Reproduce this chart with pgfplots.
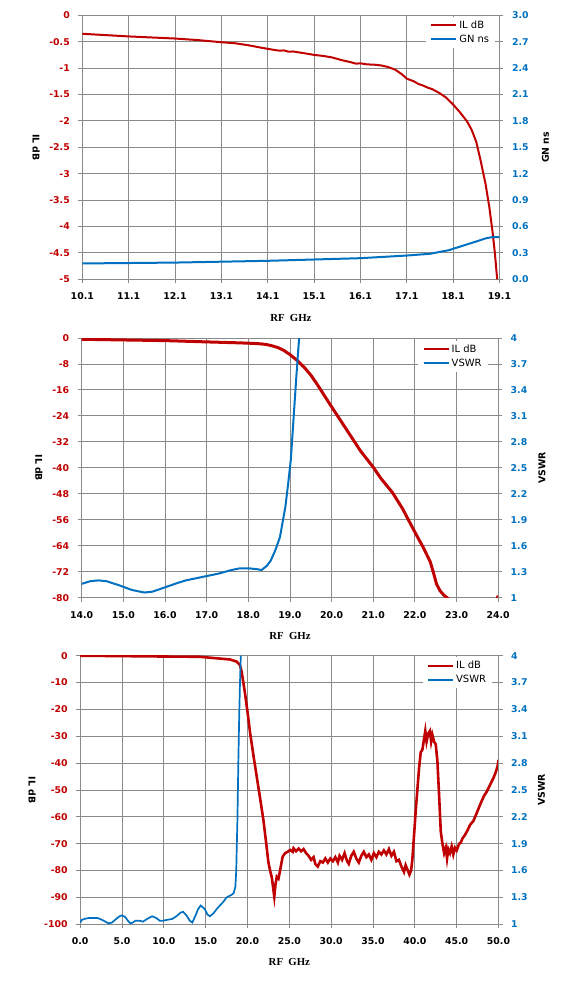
\documentclass[border=0pt]{standalone}
\usepackage{fontspec}
\setmainfont{DejaVu Sans}
\newfontfamily\serifb{Liberation Serif}
\usepackage{pgfplots}
\pgfplotsset{compat=1.18}
\definecolor{ilred}{HTML}{C00000}
\definecolor{vsblue}{HTML}{0070C0}
\definecolor{gridgray}{HTML}{8A8A8A}
\newcommand{\tickf}{\bfseries\fontsize{9.4}{10}\selectfont}
\newcommand{\labf}{\bfseries\fontsize{9.4}{10}\selectfont}
\newcommand{\legf}{\fontsize{10}{11}\selectfont}
\pgfplotsset{
  base/.style={scale only axis, anchor=north west,
    axis line style={draw=gridgray, line width=0.9bp},
    tick style={draw=gridgray, line width=0.9bp},
    tick align=outside, major tick length=4bp,
    tick label style={font=\tickf},
    /pgf/number format/assume math mode=true,
  },
  leftax/.style={base, xtick pos=left, ytick pos=left,
    xmajorgrids, ymajorgrids,
    grid style={draw=gridgray, line width=0.9bp},
    yticklabel style={text=ilred, xshift=-5bp},
    xticklabel style={text=black, yshift=-6bp},
    xlabel={\serifb\bfseries\fontsize{10.8}{12}\selectfont RF\ \ GHz},
    ylabel={\labf IL dB},
    ylabel style={rotate=180, anchor=center},
  },
  rightax/.style={base, axis x line=none, axis y line*=right,
    yticklabel style={text=vsblue, xshift=5bp},
    ylabel style={anchor=center},
    legend style={draw=none, fill=white, font=\legf, inner xsep=4bp, inner ysep=2bp,
      row sep=1bp, anchor=north east, cells={anchor=west}},
    legend image code/.code={\draw[##1, line width=2.2bp] (0bp,0bp) -- (25bp,0bp);},
  },
}
\begin{document}
\begin{tikzpicture}
\path[use as bounding box] (0bp,0bp) rectangle (568bp,-986bp);

% ---------- Plot 1 ----------
\begin{axis}[leftax, at={(82.3bp,-15.3bp)}, width=417.2bp, height=264bp,
  xmin=10.1, xmax=19.1, ymin=-5, ymax=0,
  xtick={10.1,11.1,12.1,13.1,14.1,15.1,16.1,17.1,18.1,19.1},
  xticklabels={10.1,11.1,12.1,13.1,14.1,15.1,16.1,17.1,18.1,19.1},
  ytick={0,-0.5,-1,-1.5,-2,-2.5,-3,-3.5,-4,-4.5,-5},
  yticklabels={0,-0.5,-1,-1.5,-2,-2.5,-3,-3.5,-4,-4.5,-5},
  xlabel style={at={(axis description cs:0.5,-0.145)}, anchor=center},
  ylabel style={at={(axis description cs:-0.111,0.5)}},
]
\addplot[ilred, line width=2bp] coordinates {
(10.1,-0.35)(10.5,-0.37)(11.1,-0.40)(11.6,-0.42)(12.1,-0.44)(12.6,-0.47)
(13.1,-0.51)(13.4,-0.53)(13.7,-0.57)(14.0,-0.62)(14.2,-0.65)(14.35,-0.67)
(14.45,-0.665)(14.55,-0.69)(14.65,-0.685)(14.75,-0.70)(14.9,-0.72)(15.1,-0.75)
(15.3,-0.77)(15.5,-0.80)(15.7,-0.85)(15.9,-0.89)(16.0,-0.915)(16.1,-0.91)
(16.25,-0.93)(16.4,-0.935)(16.55,-0.95)(16.7,-0.98)(16.85,-1.03)(17.0,-1.12)
(17.1,-1.20)(17.25,-1.25)(17.35,-1.30)(17.45,-1.33)(17.55,-1.37)(17.65,-1.40)
(17.8,-1.47)(17.95,-1.56)(18.1,-1.69)(18.25,-1.84)(18.4,-2.01)(18.5,-2.17)
(18.6,-2.40)(18.7,-2.78)(18.8,-3.20)(18.88,-3.63)(18.95,-4.10)(19.0,-4.50)(19.05,-5.0)
};
\end{axis}
\begin{axis}[rightax, at={(82.3bp,-15.3bp)}, width=417.2bp, height=264bp,
  xmin=10.1, xmax=19.1, ymin=0, ymax=3,
  ytick={0,0.3,0.6,0.9,1.2,1.5,1.8,2.1,2.4,2.7,3.0},
  yticklabels={0.0,0.3,0.6,0.9,1.2,1.5,1.8,2.1,2.4,2.7,3.0},
  ylabel={\labf GN ns},
  ylabel style={at={(axis description cs:1.11,0.5)}},
  legend style={at={(0.99,0.995)}},
]
\addlegendimage{ilred}
\addlegendentry{IL dB}
\addplot[vsblue, line width=2bp] coordinates {
(10.1,0.18)(11.1,0.185)(12.1,0.19)(13.1,0.20)(14.1,0.21)(15.1,0.225)(16.1,0.24)
(16.6,0.255)(17.1,0.27)(17.6,0.29)(18.0,0.33)(18.3,0.38)(18.6,0.43)(18.8,0.465)
(18.95,0.48)(19.1,0.48)
};
\addlegendentry{GN ns}
\end{axis}

% ---------- Plot 2 ----------
\begin{axis}[leftax, at={(81.7bp,-338bp)}, width=416.5bp, height=259.7bp,
  xmin=14, xmax=24, ymin=-80, ymax=0,
  xtick={14,15,...,24},
  xticklabel={\pgfmathprintnumber[fixed, fixed zerofill, precision=1]{\tick}},
  ytick={0,-8,...,-80},
  yticklabels={0,-8,-16,-24,-32,-40,-48,-56,-64,-72,-80},
  xlabel style={at={(axis description cs:0.5,-0.148)}, anchor=center},
  ylabel style={at={(axis description cs:-0.103,0.5)}},
]
\addplot[ilred, line width=3bp] coordinates {
(14.0,-0.4)(15.0,-0.6)(16.0,-0.8)(17.0,-1.2)(17.8,-1.5)(18.1,-1.65)(18.3,-1.8)
(18.45,-2.05)(18.6,-2.5)(18.72,-3.0)(18.85,-3.8)(19.0,-5.1)(19.18,-7.0)(19.34,-9.0)
(19.5,-11.4)(19.66,-14.4)(19.82,-17.6)(20.0,-21.2)(20.22,-25.5)(20.46,-30.2)
(20.7,-34.9)(21.0,-39.8)(21.18,-43.2)(21.46,-47.6)(21.7,-52.5)(22.02,-60.3)
(22.2,-64.5)(22.37,-69.0)(22.45,-72.5)(22.52,-75.8)(22.6,-77.8)(22.7,-79.3)
(22.8,-80.3)(22.9,-81)
};
\addplot[ilred, line width=3bp] coordinates {(23.96,-80.6)(24.0,-79.4)};
\end{axis}
\begin{axis}[rightax, at={(81.7bp,-338bp)}, width=416.5bp, height=259.7bp,
  xmin=14, xmax=24, ymin=1, ymax=4,
  ytick={1,1.3,1.6,1.9,2.2,2.5,2.8,3.1,3.4,3.7,4},
  yticklabels={1,1.3,1.6,1.9,2.2,2.5,2.8,3.1,3.4,3.7,4},
  ylabel={\labf VSWR},
  ylabel style={at={(axis description cs:1.105,0.5)}},
  legend style={at={(0.975,0.99)}},
]
\addlegendimage{ilred}
\addlegendentry{IL dB}
\addplot[vsblue, line width=2bp] coordinates {
(14.0,1.16)(14.2,1.19)(14.4,1.20)(14.6,1.19)(14.92,1.14)(15.2,1.09)(15.5,1.06)
(15.7,1.07)(16.0,1.12)(16.3,1.17)(16.5,1.20)(17.0,1.25)(17.3,1.28)(17.6,1.32)
(17.8,1.34)(18.0,1.34)(18.2,1.33)(18.32,1.32)(18.45,1.37)(18.54,1.43)(18.65,1.55)
(18.76,1.70)(18.89,2.05)(18.96,2.33)(19.02,2.59)(19.11,3.24)(19.16,3.6)(19.22,4.0)
};
\addlegendentry{VSWR}
\end{axis}

% ---------- Plot 3 ----------
\begin{axis}[leftax, at={(80.2bp,-655.7bp)}, width=418.3bp, height=268.6bp,
  xmin=0, xmax=50, ymin=-100, ymax=0,
  xtick={0,5,...,50},
  xticklabel={\pgfmathprintnumber[fixed, fixed zerofill, precision=1]{\tick}},
  ytick={0,-10,...,-100},
  yticklabels={0,-10,-20,-30,-40,-50,-60,-70,-80,-90,-100},
  xlabel style={at={(axis description cs:0.5,-0.14)}, anchor=center},
  ylabel style={at={(axis description cs:-0.115,0.5)}},
]
\addplot[ilred, line width=2.6bp] coordinates {
(0,0)(5,-0.15)(10,-0.3)(14.3,-0.4)(15,-0.6)(17.9,-1.4)(18.7,-2.2)(19.1,-3.5)
(19.3,-6)(19.5,-10)(19.7,-14)(20.0,-21)(20.3,-28.5)(20.7,-37)(21.1,-45)(21.5,-53)
(21.9,-61.2)(22.2,-69)(22.5,-77)(22.7,-80)(22.9,-82.5)(23.05,-86)(23.2,-89.7)
(23.35,-85)(23.5,-82.3)(23.7,-83)(23.9,-79.8)(24.2,-74.8)(24.5,-73.5)
(24.8,-73)(25.1,-72.3)(25.4,-73)(25.5,-71.7)(25.8,-72.8)(26.1,-71.8)(26.4,-72.8)
(26.7,-72)(27.0,-73.5)(27.3,-74.5)(27.6,-76)(27.9,-75)(28.1,-77.5)(28.4,-78.5)
(28.7,-76.5)(29.0,-77)(29.3,-75.5)(29.6,-77)(29.9,-75.5)(30.2,-76.5)(30.5,-75)
(30.8,-77)(31.0,-74.5)(31.3,-76)(31.6,-73.5)(31.9,-76.5)(32.1,-77.5)(32.4,-74.5)
(32.7,-73)(33.0,-75.5)(33.3,-77)(33.6,-74.5)(33.9,-73)(34.2,-75)(34.5,-74)
(34.8,-76)(35.1,-73.5)(35.4,-75)(35.7,-73)(36.0,-74)(36.3,-72.5)(36.6,-74)
(36.9,-72)(37.2,-74.5)(37.5,-73)(37.8,-76.5)(38.1,-76)(38.4,-78.5)(38.7,-80.5)
(38.9,-78)(39.1,-79.5)(39.35,-81.5)(39.55,-80)(39.7,-76)(39.9,-67)(40.1,-58)
(40.3,-50)(40.5,-42)(40.7,-36)(40.9,-35)(41.1,-31)(41.25,-28)(41.4,-32)(41.6,-29)
(41.8,-28)(41.95,-32)(42.1,-29.5)(42.3,-32)(42.5,-33)(42.7,-39.4)(42.9,-52)
(43.1,-65.5)(43.3,-70)(43.5,-73.5)(43.7,-71.5)(43.85,-75.5)(44.0,-72)(44.2,-73.5)
(44.4,-71)(44.6,-74)(44.8,-71.5)(45.0,-72.5)(45.3,-70)(45.5,-69.5)(45.7,-68)
(46.0,-66.7)(46.3,-65)(46.6,-63)(47.0,-61.5)(47.3,-59.3)(47.6,-57)(48.0,-54)
(48.3,-52)(48.6,-50.6)(49.0,-48)(49.4,-45.5)(49.7,-43.1)(49.9,-41)(50.0,-38.8)
};
\end{axis}
\begin{axis}[rightax, at={(80.2bp,-655.7bp)}, width=418.3bp, height=268.6bp,
  xmin=0, xmax=50, ymin=1, ymax=4,
  ytick={1,1.3,1.6,1.9,2.2,2.5,2.8,3.1,3.4,3.7,4},
  yticklabels={1,1.3,1.6,1.9,2.2,2.5,2.8,3.1,3.4,3.7,4},
  ylabel={\labf VSWR},
  ylabel style={at={(axis description cs:1.103,0.5)}},
  legend style={at={(0.985,0.995)}},
]
\addlegendimage{ilred}
\addlegendentry{IL dB}
\addplot[vsblue, line width=1.7bp] coordinates {
(0,1.02)(0.2,1.05)(0.5,1.06)(1.0,1.07)(1.5,1.07)(2.1,1.07)(2.6,1.05)(3.0,1.03)
(3.4,1.01)(3.8,1.02)(4.3,1.06)(4.7,1.09)(5.0,1.10)(5.4,1.08)(5.7,1.04)(6.0,1.01)
(6.3,1.02)(6.6,1.04)(7.1,1.04)(7.5,1.03)(8.0,1.06)(8.6,1.09)(9.1,1.07)(9.5,1.04)
(9.9,1.04)(10.4,1.05)(11.0,1.06)(11.5,1.09)(12.0,1.13)(12.3,1.14)(12.7,1.10)
(13.1,1.04)(13.4,1.02)(13.7,1.08)(14.1,1.17)(14.4,1.21)(14.9,1.17)(15.2,1.11)
(15.5,1.09)(15.9,1.12)(16.4,1.18)(17.1,1.25)(17.5,1.30)(17.9,1.32)(18.1,1.33)
(18.35,1.35)(18.55,1.42)(18.65,1.6)(18.8,2.2)(18.9,2.8)(19.0,3.3)(19.1,3.7)(19.2,4.0)
};
\addlegendentry{VSWR}
\end{axis}
\end{tikzpicture}
\end{document}
